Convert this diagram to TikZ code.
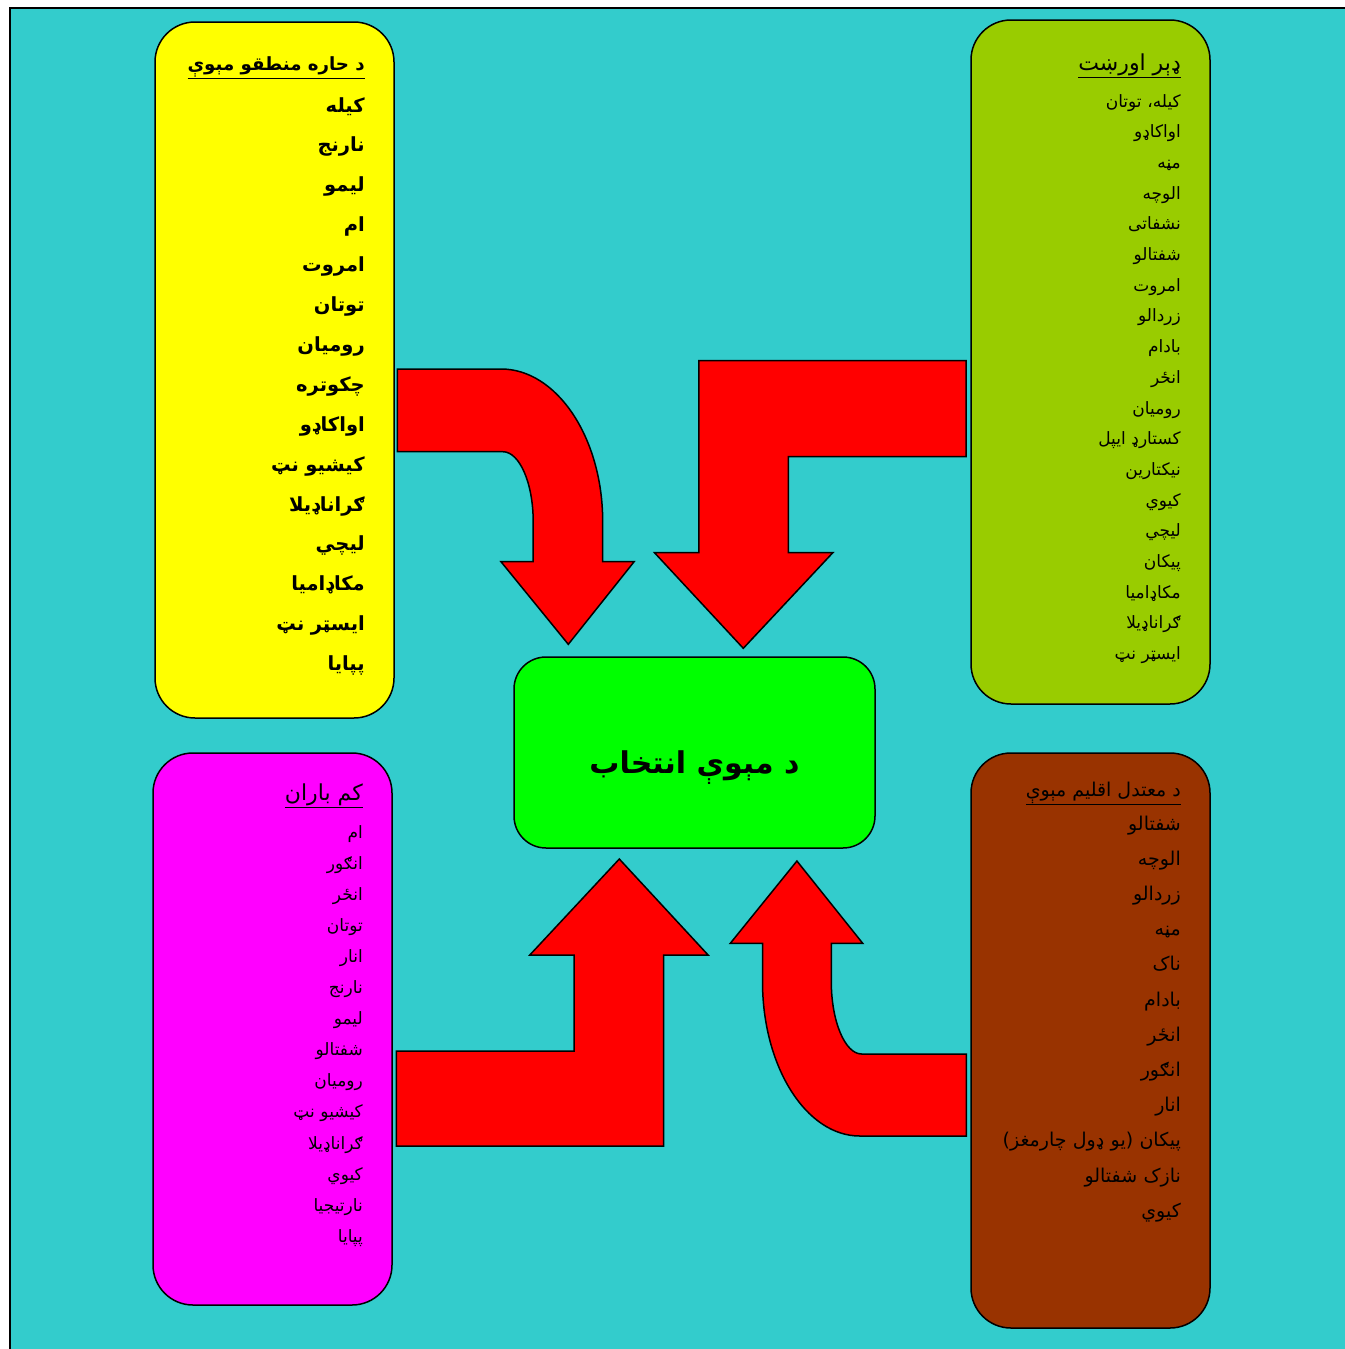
\documentclass[tikz,border=0pt]{standalone}
\usepackage{fontspec}
\usepackage{tikz}
\usetikzlibrary{positioning}
\newfontfamily\pashto[Script=Arabic]{DejaVu Sans}
\TeXXeTstate=1
\newcommand{\rl}[1]{\beginR#1\endR}
\newcommand{\tightlines}{\lineskiplimit=-100pt\relax}
\definecolor{ZoneCyan}{HTML}{33CCCC}
\definecolor{HotYellow}{HTML}{FFFF00}
\definecolor{RainOlive}{HTML}{99CC00}
\definecolor{DryMagenta}{HTML}{FF00FF}
\definecolor{MildBrown}{HTML}{993300}
\definecolor{PickGreen}{HTML}{00FF00}
\definecolor{ArrowRed}{HTML}{FF0000}
\tikzset{
  zonebox/.style={rectangle,rounded corners=40pt,draw=black,line width=1.5pt,minimum width=239pt},
  fruitlist/.style={anchor=base east,inner sep=0pt,text width=230pt,align=right},
  zonetitle/.style={anchor=base east,inner sep=0pt},
  bigarrow/.style={draw=black,fill=ArrowRed,line width=1.5pt,line join=miter},
}

\begin{document}
\begin{tikzpicture}[x=1pt,y=-1pt]
  \useasboundingbox (0,0) rectangle (1344,1349);
  \fill[white] (0,0) rectangle (1344,1349);
  \draw[fill=ZoneCyan,line width=2pt] (10,8) rectangle (1360,1365);

  % Zone boxes
  \node[zonebox,fill=HotYellow,minimum height=696pt] (hot) at (274.5,370) {};
  \node[zonebox,fill=RainOlive,minimum height=684pt] (rain) at (1090.5,362) {};
  \node[zonebox,fill=DryMagenta,minimum height=552pt] (dry) at (272.5,1029) {};
  \node[zonebox,fill=MildBrown,minimum height=575pt] (mild) at (1090.5,1040.5) {};
  \node[zonebox,fill=PickGreen,rounded corners=32pt,minimum width=361pt,minimum height=191pt] (pick) at (694.5,752.5) {};

  % Centre label
  \node[font=\pashto\bfseries\fontsize{30}{36}\selectfont] (picktext) at (694.5,768) {\rl{د مېوې انتخاب}};

  % Hot zone
  \node[zonetitle,font=\pashto\bfseries\fontsize{18.2}{23}\selectfont] (hottitle) at (365,70) {\underline{\rl{د حاره منطقو مېوې}}};
  \node[fruitlist,font=\pashto\bfseries\fontsize{19.5}{39.9}\selectfont\tightlines] (hotlist) at (365,112) {%
    \rl{كيله}\\\rl{نارنج}\\\rl{ليمو}\\\rl{ام}\\\rl{امروت}\\\rl{توتان}\\\rl{روميان}\\\rl{چکوتره}\\%
    \rl{اواکاډو}\\\rl{کيشيو نټ}\\\rl{ګراناډيلا}\\\rl{ليچي}\\\rl{مکاډاميا}\\\rl{ايسټر نټ}\\\rl{پپايا}};

  % Rainy zone
  \node[zonetitle,font=\pashto\fontsize{22}{26}\selectfont] (raintitle) at (1181,70) {\underline{\rl{ډېر اورښت}}};
  \node[fruitlist,font=\pashto\fontsize{17}{30.7}\selectfont\tightlines] (rainlist) at (1181,107) {%
    \rl{كيله، توتان}\\\rl{اواکاډو}\\\rl{مڼه}\\\rl{الوچه}\\\rl{نشفاتی}\\\rl{شفتالو}\\\rl{امروت}\\%
    \rl{زردالو}\\\rl{بادام}\\\rl{انځر}\\\rl{روميان}\\\rl{کستارډ ايپل}\\\rl{نيکتارين}\\\rl{کيوي}\\%
    \rl{ليچي}\\\rl{پيکان}\\\rl{مکاډاميا}\\\rl{ګراناډيلا}\\\rl{ايسټر نټ}};

  % Dry zone
  \node[zonetitle,font=\pashto\fontsize{22}{26}\selectfont] (drytitle) at (363,800) {\underline{\rl{کم باران}}};
  \node[fruitlist,font=\pashto\fontsize{17}{31.1}\selectfont\tightlines] (drylist) at (363,838) {%
    \rl{ام}\\\rl{انګور}\\\rl{انځر}\\\rl{توتان}\\\rl{انار}\\\rl{نارنج}\\\rl{ليمو}\\\rl{شفتالو}\\%
    \rl{روميان}\\\rl{کيشيو نټ}\\\rl{ګراناډيلا}\\\rl{کيوي}\\\rl{نارتيجيا}\\\rl{پپايا}};

  % Mild zone
  \node[zonetitle,font=\pashto\fontsize{19}{22}\selectfont] (mildtitle) at (1181,796) {\underline{\rl{د معتدل اقليم مېوې}}};
  \node[fruitlist,font=\pashto\fontsize{19}{35.2}\selectfont\tightlines] (mildlist) at (1181,830) {%
    \rl{شفتالو}\\\rl{الوچه}\\\rl{زردالو}\\\rl{مڼه}\\\rl{ناک}\\\rl{بادام}\\\rl{انځر}\\\rl{انګور}\\%
    \rl{انار}\\\rl{پيکان (يو ډول چارمغز)}\\\rl{نازک شفتالو}\\\rl{کيوي}};

  % Block arrows
  \draw[bigarrow] (397.4,369) -- (501,369) .. controls (556.8,369) and (602.7,437.7) .. (602.7,521.7)
    -- (602.7,561.7) -- (634.1,561.7) -- (568.3,644.3) -- (501,561.7) -- (533.2,561.7) -- (533.2,521.7)
    .. controls (533.2,483) and (519.5,451.7) .. (502.8,451.7) -- (397.4,451.7) -- cycle;
  \draw[bigarrow] (698.9,360.7) -- (966,360.7) -- (966,456.7) -- (788.4,456.7) -- (788.4,552.7)
    -- (832.8,552.7) -- (743.3,648.3) -- (654.5,552.7) -- (698.9,552.7) -- cycle;
  \draw[bigarrow] (396.3,1051) -- (574.2,1051) -- (574.2,955) -- (529.8,955) -- (619.3,859)
    -- (708.1,955) -- (663.7,955) -- (663.7,1146) -- (396.3,1146) -- cycle;
  \draw[bigarrow] (796.9,861) -- (862.7,943.3) -- (831.3,943.3) -- (831.3,981.7)
    .. controls (831.3,1021.3) and (845,1054) .. (861.6,1054) -- (966.3,1054) -- (966.3,1136) -- (859.8,1136)
    .. controls (806.2,1136) and (762.5,1066.7) .. (762.5,981.7) -- (762.5,943.3) -- (730.3,943.3) -- cycle;
\end{tikzpicture}
\end{document}
